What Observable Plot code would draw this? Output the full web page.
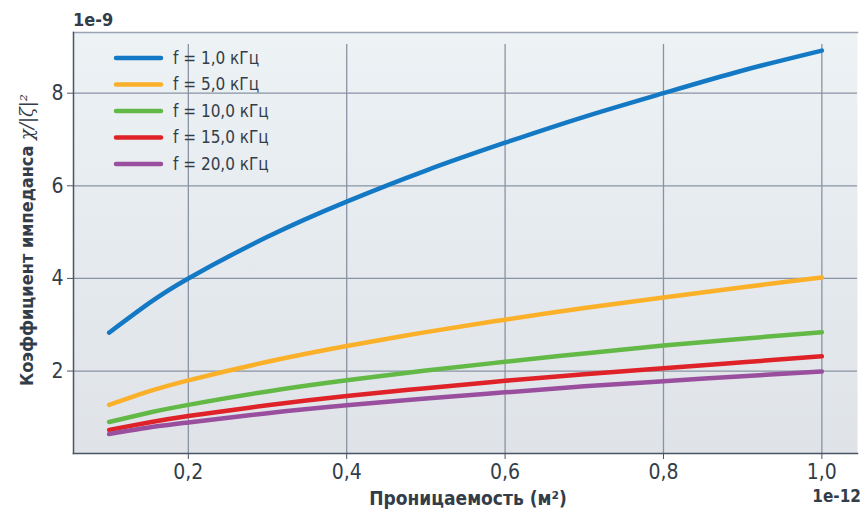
<!DOCTYPE html>
<html><head><meta charset="utf-8">
<script src="https://cdn.jsdelivr.net/npm/d3@7"></script>
<script src="https://cdn.jsdelivr.net/npm/@observablehq/plot@0.6"></script>
<style>
body{margin:0;background:#fff;}
#chart{position:relative;width:862px;height:511px;}
#chart svg g[aria-label$="tick label"], #chart svg g[aria-label$="tick label"] text { font-size: 21px !important; }
</style>
</head><body><div id="chart"></div>
<script>
// Permeability (×1e-12 m²)
const permeability = [0.1, 0.15, 0.2, 0.3, 0.4, 0.5, 0.6, 0.7, 0.8, 0.9, 1.0];
// Impedance coefficient (×1e-9) per frequency
const seriesNames = ["f = 1,0 кГц", "f = 5,0 кГц", "f = 10,0 кГц", "f = 15,0 кГц", "f = 20,0 кГц"];
const f1  = [2.83, 3.46, 4.00, 4.90, 5.66, 6.33, 6.93, 7.49, 8.00, 8.49, 8.92];
const f5  = [1.27, 1.56, 1.80, 2.20, 2.54, 2.84, 3.11, 3.36, 3.59, 3.81, 4.02];
const f10 = [0.90, 1.10, 1.27, 1.56, 1.80, 2.01, 2.20, 2.38, 2.55, 2.70, 2.84];
const f15 = [0.73, 0.89, 1.03, 1.26, 1.46, 1.63, 1.79, 1.93, 2.06, 2.19, 2.32];
const f20 = [0.64, 0.78, 0.89, 1.09, 1.26, 1.41, 1.54, 1.67, 1.78, 1.89, 1.99];
const colors = ["#1479c4", "#fbb02a", "#62b946", "#df2128", "#994f9d"];
const xTicks = [0.2, 0.4, 0.6, 0.8, 1.0];
const yTicks = [2, 4, 6, 8];

const allSeries = [f1, f5, f10, f15, f20];
const data = [];
allSeries.forEach((vals, i) => vals.forEach((v, j) => data.push({x: permeability[j], y: v, s: seriesNames[i]})));

const fmt = d => d.toFixed(1).replace(".", ",");
const font = "'DejaVu Sans Condensed', 'Liberation Sans Narrow', 'Roboto', sans-serif";

const chart = Plot.plot({
  width: 862, height: 511,
  marginLeft: 73, marginRight: 5, marginTop: 32, marginBottom: 58,
  style: `font-family: ${font}; font-size: 21px; color: #333d4a; background: transparent;`,
  x: {domain: [0.055, 1.045], label: null},
  y: {domain: [0.22, 9.31], label: null},
  color: {domain: seriesNames, range: colors},
  marks: [
    Plot.frame({fill: "url(#bgGrad)", stroke: null}),
    Plot.ruleY(yTicks, {stroke: "#8993a3", strokeWidth: 1.3}),
    Plot.ruleX(xTicks, {stroke: "#8993a3", strokeWidth: 1.3, insetTop: 12}),
    Plot.frame({anchor: "top", stroke: "#9aa3b1", strokeWidth: 1.5}),
    Plot.axisX({ticks: xTicks, tickFormat: fmt, tickSize: 6, tickPadding: 5, stroke: "#4a5563", fill: "#333d4a", fontSize: 21, label: null}),
    Plot.axisY({ticks: yTicks, tickSize: 6, tickPadding: 4, stroke: "#4a5563", fill: "#333d4a", fontSize: 21, label: null}),
    Plot.frame({anchor: "left", stroke: "#4a5563", strokeWidth: 1.5}),
    Plot.frame({anchor: "bottom", stroke: "#4a5563", strokeWidth: 1.5}),
    Plot.line(data, {x: "x", y: "y", z: "s", stroke: "s", strokeWidth: 4.5, strokeLinecap: "round", curve: "natural"})
  ]
});

const svg = d3.select(chart);
const defs = svg.insert("defs", ":first-child");
const g = defs.append("linearGradient").attr("id", "bgGrad").attr("x1", 0).attr("y1", 0).attr("x2", 0).attr("y2", 1);
g.append("stop").attr("offset", "0%").attr("stop-color", "#edf2f5");
g.append("stop").attr("offset", "100%").attr("stop-color", "#dfe3e8");

// Legend
const lg = svg.append("g").attr("font-family", font).attr("font-size", "17px").attr("fill", "#333d4a").attr("text-anchor", "start");
seriesNames.forEach((name, i) => {
  const yy = 58 + i * 26.5;
  lg.append("line").attr("x1", 116).attr("x2", 161).attr("y1", yy).attr("y2", yy)
    .attr("stroke", colors[i]).attr("stroke-width", 4.5).attr("stroke-linecap", "round");
  lg.append("text").attr("x", 173).attr("y", yy).attr("dy", "0.35em").text(name);
});

// Labels
const lb = svg.append("g").attr("font-family", font).attr("fill", "#333d4a").attr("font-weight", "bold").attr("text-anchor", "start");
lb.append("text").attr("x", 73).attr("y", 26).attr("font-size", "18px").text("1e-9");
lb.append("text").attr("x", 861).attr("y", 502).attr("text-anchor", "end").attr("font-size", "17px").text("1e-12");
lb.append("text").attr("x", 468).attr("y", 505).attr("text-anchor", "middle").attr("font-size", "19px").text("Проницаемость (м²)");
const yl = lb.append("text").attr("transform", "translate(33,240) rotate(-90)").attr("text-anchor", "middle").attr("font-size", "18px");
yl.append("tspan").text("Коэффициент импеданса ");
yl.append("tspan").attr("font-style", "italic").attr("font-weight", "normal").attr("font-family", "'DejaVu Serif', serif").text("χ/|ζ|²");

document.getElementById("chart").appendChild(chart);
</script>
</body></html>
